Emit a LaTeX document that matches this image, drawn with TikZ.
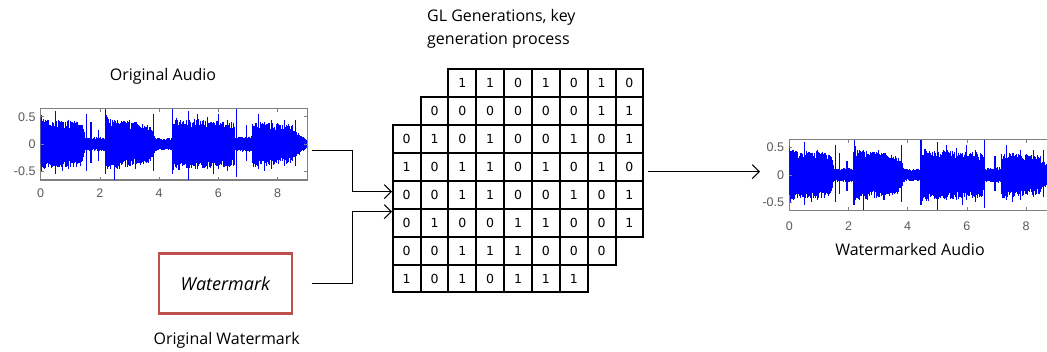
\documentclass[tikz,border=0pt]{standalone}
\usepackage{fontspec}
\setmainfont{Open Sans}
\newfontfamily\digitfont{DejaVu Sans}
\newfontfamily\tickfont{Liberation Sans}
\usetikzlibrary{arrows.meta}
\definecolor{wmred}{RGB}{192,80,77}
\definecolor{axgray}{RGB}{128,128,128}
\definecolor{ticktext}{RGB}{90,90,90}
\tikzset{
  cell/.style={draw, line width=2pt, minimum width=27.85pt, minimum height=27.9pt,
    inner sep=0pt, font=\digitfont\fontsize{12.5}{14}\selectfont},
  label/.style={font=\fontsize{16}{19}\selectfont, inner sep=0pt},
  conn/.style={line width=1.1pt, -{Straight Barb[length=7pt,width=14pt]}},
  plotframe/.style={draw=axgray, line width=1.1pt, inner sep=0pt},
  wave/.style={blue, line width=0.8pt},
  ticklab/.style={font=\tickfont\fontsize{12.5}{14}\selectfont, text=ticktext, inner sep=0pt},
  wmbox/.style={draw=wmred, line width=2.6pt, minimum width=133pt, minimum height=60pt,
    font=\itshape\fontsize{18}{21}\selectfont}
}
% one audio trace in data coordinates: x = seconds (0..9), y = amplitude
\newcommand\audiotrace{%
  \pgfmathsetseed{4711}%
  \foreach \ta/\tb/\aa/\ab in {0.00/0.06/0.48/0.44, 0.06/1.40/0.40/0.36,
      1.40/1.50/0.32/0.13, 1.50/2.18/0.11/0.11, 2.18/2.26/0.52/0.45,
      2.26/3.70/0.42/0.31, 3.70/3.90/0.28/0.11, 3.90/4.45/0.10/0.10,
      4.45/6.55/0.43/0.36, 6.55/7.15/0.11/0.13, 7.15/8.50/0.38/0.31,
      8.50/8.98/0.25/0.08}{%
    \pgfmathtruncatemacro\nn{round((\tb-\ta)/0.01)}%
    \foreach \k in {0,...,\nn}{%
      \pgfmathsetmacro\tt{\ta+\k*0.01}%
      \pgfmathsetmacro\am{\aa+(\ab-\aa)*\k/\nn}%
      \pgfmathsetmacro\up{\am*(0.75+0.4*rnd^2)}%
      \pgfmathsetmacro\dn{\am*(0.75+0.4*rnd^2)}%
      \draw[wave] (\tt,\up) -- (\tt,-\dn);
    }%
  }%
  \foreach \tt/\up/\dn in {0.15/0.45/0.40, 0.50/0.60/0.55, 0.95/0.45/0.45,
      1.55/0.55/0.50, 1.70/0.40/0.35, 1.95/0.25/0.30, 2.20/0.65/0.55,
      2.50/0.45/0.65, 2.65/0.35/0.45, 3.20/0.40/0.45, 3.80/0.55/0.50,
      4.45/0.65/0.55, 4.70/0.40/0.45, 5.00/0.60/0.65, 5.30/0.55/0.45,
      5.65/0.50/0.45, 6.00/0.55/0.45, 6.30/0.45/0.50, 6.60/0.65/0.60,
      6.95/0.35/0.30, 7.35/0.55/0.45, 7.80/0.45/0.45, 8.25/0.45/0.40,
      8.60/0.45/0.40, 0.75/0.40/0.50, 3.00/0.45/0.40, 5.85/0.40/0.55,
      7.55/0.40/0.50}{%
    \draw[wave, line width=1.1pt] (\tt,\up) -- (\tt,-\dn);
  }%
}
% axis ticks inside the frame, in data coordinates
\newcommand\axisticks[1]{%
  \foreach \xx in {2,4,6,8}{%
    \draw[axgray, line width=0.8pt] (\xx,-0.655) -- ++(0,0.06);
    \draw[axgray, line width=0.8pt] (\xx,0.655) -- ++(0,-0.06);
  }%
  \foreach \yy in {-0.5,0,0.5}{%
    \draw[axgray, line width=0.8pt] (0,\yy) -- ++(0.1,0);
    \ifx#1y\draw[axgray, line width=0.8pt] (9,\yy) -- ++(-0.1,0);\fi
  }%
}
\begin{document}
\begin{tikzpicture}[x=1pt, y=-1pt]
\useasboundingbox[fill=white] (0,0) rectangle (1047,352);

% ---------- original audio ----------
\node[label] (origlab) at (163,76.7) {Original Audio};
\node[plotframe, minimum width=266.6pt, minimum height=71.7pt] (orig) at (174,144.15) {};
\begin{scope}[shift={(40.7,144.15)}, x=29.6pt, y=54.6pt]
  \begin{scope}
    \clip (0,-0.655) rectangle (9,0.655);
    \audiotrace
  \end{scope}
  \axisticks{y}
  \foreach \yy/\tx in {0.5/0.5, 0/0, -0.5/-0.5}
    \node[ticklab, anchor=east] at (-0.17,\yy) {\tx};
  \foreach \xx in {0,2,4,6,8}
    \node[ticklab] at (\xx,-0.9) {\xx};
\end{scope}

% ---------- watermark ----------
\node[wmbox] (wm) at (225.3,283.7) {Watermark};
\node[label] (wmlab) at (226.7,340) {Original Watermark};

% ---------- GL key generation grid ----------
\node[label, align=left, anchor=north west, font=\fontsize{16}{23}\selectfont]
  (gllab) at (427,9) {GL Generations, key\\generation process};
\foreach \r/\s/\bits in {0/2/{1,1,0,1,0,1,0}, 1/1/{0,0,0,0,0,0,1,1},
    2/0/{0,1,0,1,0,0,1,0,1}, 3/0/{1,0,1,1,0,1,0,1,0},
    4/0/{0,0,1,1,0,0,1,0,1}, 5/0/{0,1,0,0,1,1,0,0,1},
    6/0/{0,0,1,1,1,0,0,0}, 7/0/{1,0,1,0,1,1,1}}{
  \foreach \b [count=\k from 0] in \bits {
    \pgfmathtruncatemacro\cc{\s+\k}
    \node[cell] (c-\r-\cc) at ({392.7+27.85*(\cc+0.5)},{69.3+27.9*(\r+0.5)}) {\b};
  }
}

% ---------- watermarked audio ----------
\node[inner sep=0pt, minimum width=0pt] (wmk) at (789.3,175) {};
\draw[axgray, line width=1.1pt] (1047,139.3) -| (789.3,210.7) -- (1047,210.7);
\begin{scope}[shift={(789.3,175)}, x=29.6pt, y=54.6pt]
  \begin{scope}
    \clip (0,-0.655) rectangle (8.73,0.655);
    \audiotrace
  \end{scope}
  \axisticks{n}
  \foreach \yy/\tx in {0.5/0.5, 0/0, -0.5/-0.5}
    \node[ticklab, anchor=east] at (-0.17,\yy) {\tx};
  \foreach \xx in {0,2,4,6,8}
    \node[ticklab] at (\xx,-0.93) {\xx};
\end{scope}
\node[label] (wmklab) at (910,250) {Watermarked Audio};

% ---------- connectors ----------
\coordinate (a-out) at (311.7,150.7);
\coordinate (w-out) at (311.7,283.3);
\coordinate (g-in1) at (392,191.7);
\coordinate (g-in2) at (392,211.7);
\coordinate (g-out) at (648,171.7);
\coordinate (m-in) at (760,171.7);
\draw[conn] (a-out) -- (352.3,150.7) |- (g-in1);
\draw[conn] (w-out) -- (352.3,283.3) |- (g-in2);
\draw[conn] (g-out) -- (m-in);
\end{tikzpicture}
\end{document}
